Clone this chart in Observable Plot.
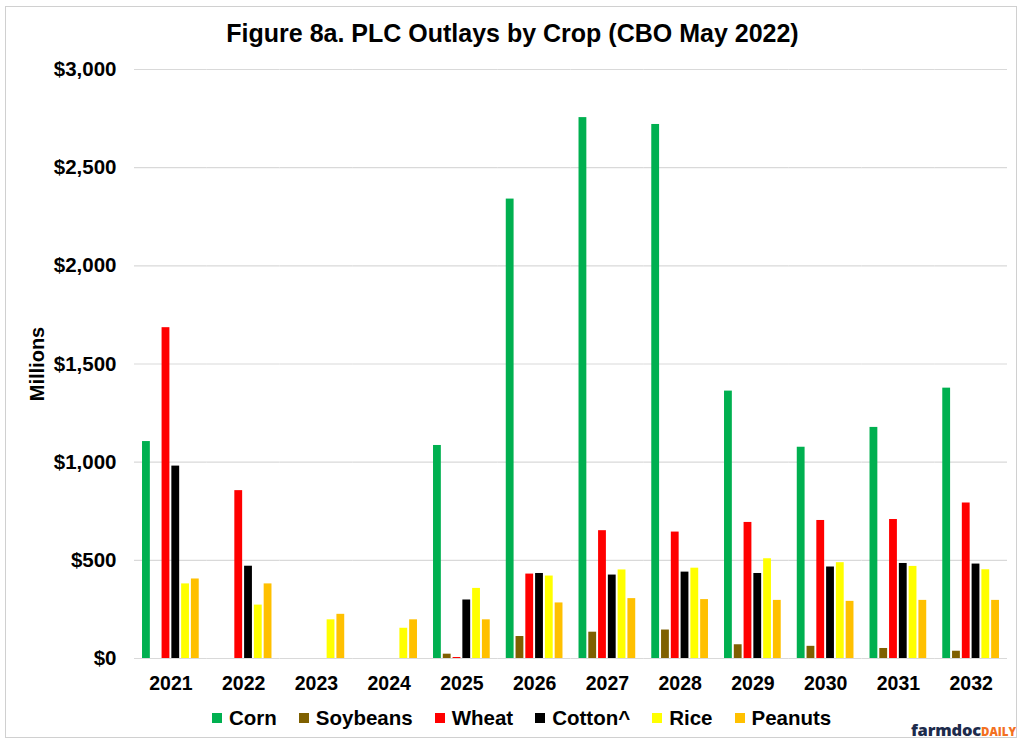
<!DOCTYPE html>
<html>
<head>
<meta charset="utf-8">
<script src="https://cdn.jsdelivr.net/npm/d3@7"></script>
<script src="https://cdn.jsdelivr.net/npm/@observablehq/plot@0.6"></script>
<style>
  html, body { margin: 0; padding: 0; background: #fff; }
  #wrap { position: relative; width: 1021px; height: 741px; overflow: hidden; font-family: "Liberation Sans", Arial, sans-serif; font-weight: bold; color: #000; }
  #border { position: absolute; left: 5px; top: 6px; width: 1010px; height: 730px; border: 1px solid #d0d0d0; }
  #title { position: absolute; left: 2px; top: 18px; width: 1021px; text-align: center; font-size: 25px; line-height: 30px; }
  #chart { position: absolute; left: 0; top: 50px; }
  #ylabel { position: absolute; left: 37px; top: 364px; transform: translate(-50%, -50%) rotate(-90deg); font-size: 20px; white-space: nowrap; }
  #legend { position: absolute; left: 212px; top: 706px; display: flex; align-items: center; font-size: 20.5px; line-height: 24px; }
  #legend .item { display: flex; align-items: center; margin-right: 22px; }
  #legend .sw { width: 10px; height: 10px; margin-right: 7px; }
  #logo { position: absolute; left: 911px; top: 720px; white-space: nowrap; line-height: 20px; }
  #logo .a { color: #1d2b4c; font-size: 16.5px; font-family: "Open Sans", "Liberation Sans", sans-serif; font-weight: 800; letter-spacing: -0.2px; }
  #logo .b { color: #f37021; font-size: 11.5px; font-family: "Open Sans", "Liberation Sans", sans-serif; font-weight: 800; }
  svg text { font-family: "Liberation Sans", Arial, sans-serif; font-weight: bold; }
</style>
</head>
<body>
<div id="wrap">
  <div id="border"></div>
  <div id="title">Figure 8a. PLC Outlays by Crop (CBO May 2022)</div>
  <div id="chart"></div>
  <div id="ylabel">Millions</div>
  <div id="legend"></div>
  <div id="logo"><span class="a">farmdoc</span><span class="b">DAILY</span></div>
</div>
<script>
const years = ["2021","2022","2023","2024","2025","2026","2027","2028","2029","2030","2031","2032"];
const crops = ["Corn","Soybeans","Wheat","Cotton^","Rice","Peanuts"];
const colors = ["#00B050","#7F6000","#FF0000","#000000","#FFFF00","#FFC000"];
const corn     = [1105,    0,   0,   0, 1085, 2340, 2755, 2720, 1362, 1076, 1177, 1377];
const soybeans = [   0,    0,   0,   0,   22,  112,  134,  145,   70,   62,   51,   37];
const wheat    = [1685,  855,   0,   0,    5,  430,  651,  644,  693,  703,  708,  792];
const cotton   = [ 980,  470,   0,   0,  298,  433,  425,  440,  433,  466,  484,  481];
const rice     = [ 380,  272, 197, 154,  357,  420,  451,  460,  508,  488,  469,  452];
const peanuts  = [ 405,  380, 225, 197,  197,  283,  305,  300,  296,  291,  296,  296];
const yTicks = [0, 500, 1000, 1500, 2000, 2500, 3000];

const series = [corn, soybeans, wheat, cotton, rice, peanuts];
const data = [];
years.forEach((yr, i) => {
  crops.forEach((c, j) => {
    data.push({year: yr, crop: c, value: series[j][i]});
  });
});

const chart = Plot.plot({
  width: 1021,
  height: 650,
  marginTop: 19,
  marginBottom: 42,
  marginLeft: 134,
  marginRight: 14,
  style: {fontFamily: "Liberation Sans, Arial, sans-serif", fontSize: "20.5px", fontWeight: "bold", color: "#000", background: "transparent"},
  fx: {domain: years, padding: 0, round: false, label: null},
  x: {domain: crops, paddingInner: 0.2, paddingOuter: 0.82, round: false, axis: null},
  y: {domain: [0, 3000], label: null},
  color: {domain: crops, range: colors},
  marks: [
    Plot.ruleY(yTicks, {stroke: "#d9d9d9", strokeWidth: 1.2}),
    Plot.barY(data, {fx: "year", x: "crop", y: "value", fill: "crop"}),
    Plot.axisY({ticks: yTicks, tickFormat: d => "$" + d3.format(",")(d), tickSize: 0, tickPadding: 18, fontSize: 20.5, label: null}),
    Plot.axisFx({anchor: "bottom", tickSize: 0, tickPadding: 18, fontSize: 19.5, label: null})
  ]
});
document.getElementById("chart").appendChild(chart);

const legend = document.getElementById("legend");
crops.forEach((c, j) => {
  const item = document.createElement("div");
  item.className = "item";
  const sw = document.createElement("div");
  sw.className = "sw";
  sw.style.background = colors[j];
  const t = document.createElement("span");
  t.textContent = c;
  item.appendChild(sw);
  item.appendChild(t);
  legend.appendChild(item);
});
</script>
</body>
</html>
